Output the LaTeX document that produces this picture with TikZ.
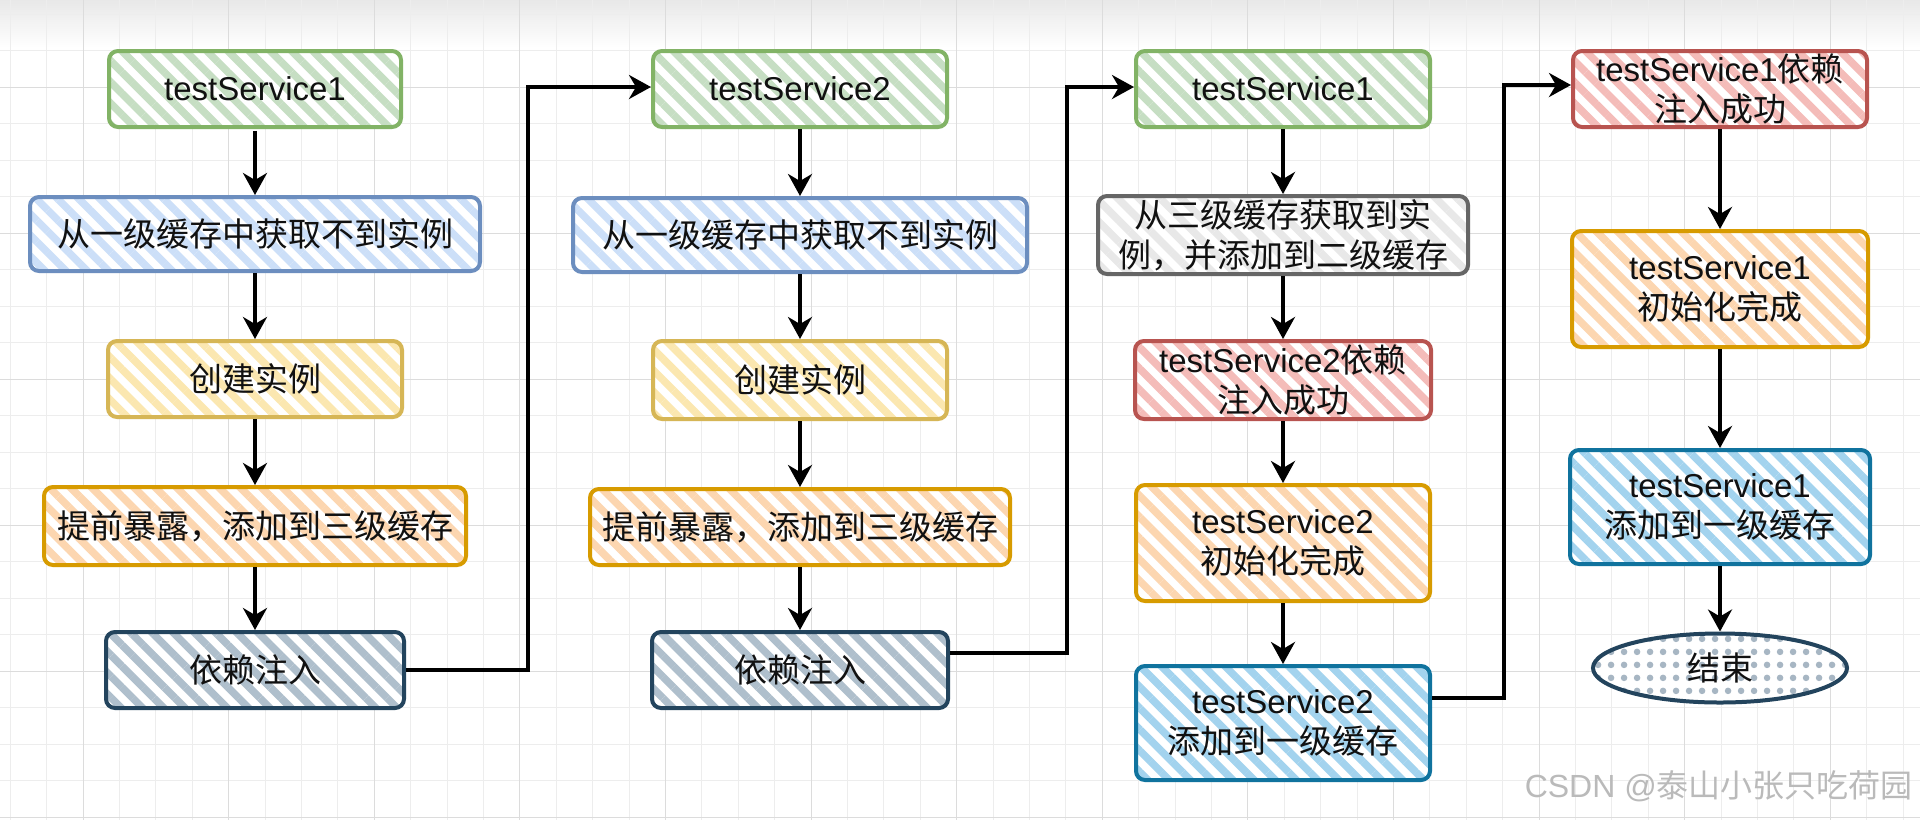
\documentclass[tikz,border=0pt]{standalone}
\usepackage{fontspec}
\setmainfont{Liberation Sans}
\newfontfamily\cjk{Noto Sans CJK SC}
\usetikzlibrary{arrows.meta,patterns.meta,shapes.geometric,calc}
\definecolor{gS}{HTML}{82B366}\definecolor{gF}{HTML}{C6DEC3}
\definecolor{bS}{HTML}{6C8EBF}\definecolor{bF}{HTML}{CCDFF8}
\definecolor{yS}{HTML}{D6B656}\definecolor{yF}{HTML}{FBE7B0}
\definecolor{oS}{HTML}{D79B00}\definecolor{oF}{HTML}{FCD6B0}
\definecolor{nS}{HTML}{23445D}\definecolor{nF}{HTML}{AFBFCC}
\definecolor{kS}{HTML}{666666}\definecolor{kF}{HTML}{E8E8E8}
\definecolor{rS}{HTML}{B85450}\definecolor{rF}{HTML}{F4BCB9}
\definecolor{cS}{HTML}{10739E}\definecolor{cF}{HTML}{A3D3EE}
\definecolor{dF}{HTML}{A7B6C3}
\definecolor{txt}{HTML}{111111}
\definecolor{gridminor}{HTML}{EDEDED}
\definecolor{gridmajor}{HTML}{DCDCDC}
\tikzset{
  base/.style={rectangle, rounded corners=9pt, line width=4pt, align=center,
    inner sep=0pt, text=txt, font=\fontsize{33}{40}\selectfont},
  hatch/.style 2 args={draw=#1, preaction={fill=white},
    pattern={Lines[angle=-45,distance=15pt,line width=7.5pt]}, pattern color=#2},
  sz/.style 2 args={minimum width=#1pt, minimum height=#2pt},
  sgreen/.style={base, hatch={gS}{gF}},
  sblue/.style={base, hatch={bS}{bF}},
  syellow/.style={base, hatch={yS}{yF}},
  sorange/.style={base, hatch={oS}{oF}},
  snavy/.style={base, hatch={nS}{nF}},
  sgray/.style={base, hatch={kS}{kF}},
  sred/.style={base, hatch={rS}{rF}},
  scyan/.style={base, hatch={cS}{cF}},
  sellipse/.style={ellipse, draw=nS, line width=4pt, inner sep=0pt, text=txt,
    font=\fontsize{33}{40}\selectfont, preaction={fill=white},
    pattern={Dots[radius=3.5pt,distance=13pt]}, pattern color=dF},
  arr/.style={-{Stealth[length=22pt,width=24pt,inset=7pt]}, line width=3.5pt, black},
}
\begin{document}
\begin{tikzpicture}[x=1pt,y=-1pt]
\useasboundingbox (0,0) rectangle (1920,820);
\fill[white] (0,0) rectangle (1920,820);
\shade[top color=black!9, bottom color=white] (0,0) rectangle (1920,48);
% grid
\foreach \i in {0,...,52} \draw[gridminor, line width=1pt] ({10.2+36.4*\i},0) -- ({10.2+36.4*\i},820);
\foreach \i in {0,...,22} \draw[gridminor, line width=1pt] (0,{14+36.5*\i}) -- (1920,{14+36.5*\i});
\foreach \i in {0,...,12} \draw[gridmajor, line width=1pt] ({83+145.6*\i},0) -- ({83+145.6*\i},820);
\foreach \i in {0,...,5} \draw[gridmajor, line width=1pt] (0,{87+146*\i}) -- (1920,{87+146*\i});

% column 1
\node[sgreen, sz={292}{76}] (n11) at (255,89) {testService1};
\node[sblue, sz={450}{74}] (n12) at (255,234) {\cjk 从一级缓存中获取不到实例};
\node[syellow, sz={294}{76}] (n13) at (255,379) {\cjk 创建实例};
\node[sorange, sz={422}{78}] (n14) at (255,526) {\cjk 提前暴露，添加到三级缓存};
\node[snavy, sz={298}{76}] (n15) at (255,670) {\cjk 依赖注入};
% column 2
\node[sgreen, sz={294}{76}] (n21) at (800,89) {testService2};
\node[sblue, sz={454}{74}] (n22) at (800,235) {\cjk 从一级缓存中获取不到实例};
\node[syellow, sz={294}{78}] (n23) at (800,380) {\cjk 创建实例};
\node[sorange, sz={420}{76}] (n24) at (800,527) {\cjk 提前暴露，添加到三级缓存};
\node[snavy, sz={296}{76}] (n25) at (800,670) {\cjk 依赖注入};
% column 3
\node[sgreen, sz={294}{76}] (n31) at (1283,89) {testService1};
\node[sgray, sz={370}{78}] (n32) at (1283,235) {\cjk 从三级缓存获取到实\\\cjk 例，并添加到二级缓存};
\node[sred, sz={296}{78}] (n33) at (1283,380) {testService2{\cjk 依赖}\\\cjk 注入成功};
\node[sorange, sz={294}{116}] (n34) at (1283,543) {testService2\\\cjk 初始化完成};
\node[scyan, sz={294}{114}] (n35) at (1283,723) {testService2\\\cjk 添加到一级缓存};
% column 4
\node[sred, sz={294}{76}] (n41) at (1720,89) {testService1{\cjk 依赖}\\\cjk 注入成功};
\node[sorange, sz={296}{116}] (n42) at (1720,289) {testService1\\\cjk 初始化完成};
\node[scyan, sz={300}{114}] (n43) at (1720,507) {testService1\\\cjk 添加到一级缓存};
\node[sellipse, sz={254}{69}] (n44) at (1720,668) {\cjk 结束};

% vertical arrows
\draw[arr] (n11) -- (n12);
\draw[arr] (n12) -- (n13);
\draw[arr] (n13) -- (n14);
\draw[arr] (n14) -- (n15);
\draw[arr] (n21) -- (n22);
\draw[arr] (n22) -- (n23);
\draw[arr] (n23) -- (n24);
\draw[arr] (n24) -- (n25);
\draw[arr] (n31) -- (n32);
\draw[arr] (n32) -- (n33);
\draw[arr] (n33) -- (n34);
\draw[arr] (n34) -- (n35);
\draw[arr] (n41) -- (n42);
\draw[arr] (n42) -- (n43);
\draw[arr] (n43) -- (n44);
% column links
\draw[arr] (n15.east) -- ++(122,0) |- ([yshift=2pt]n21.west);
\draw[arr] ([yshift=17pt]n25.east) -- ++(117,0) |- ([yshift=2pt]n31.west);
\draw[arr] ([yshift=25pt]n35.east) -- ++(72,0) |- ([yshift=4pt]n41.west);

% watermark
\node[anchor=east, inner sep=0pt, text=black!27, font=\fontsize{32}{36}\selectfont] (wm) at (1913,786) {CSDN @{\cjk 泰山小张只吃荷园}};
\end{tikzpicture}
\end{document}
